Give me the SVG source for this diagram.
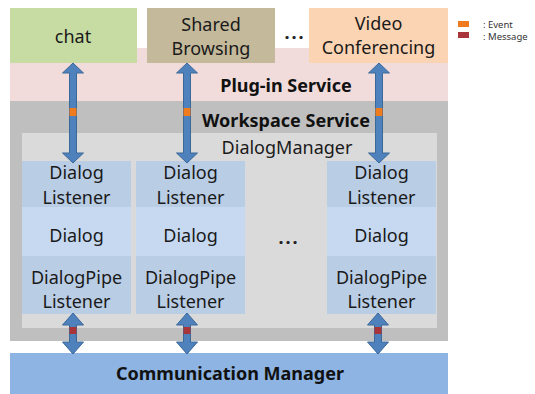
<svg xmlns="http://www.w3.org/2000/svg" xmlns:xlink="http://www.w3.org/1999/xlink" width="535" height="394" viewBox="0 0 535 394">
<style>
.t{font-family:"Noto Sans","Open Sans","DejaVu Sans",sans-serif;font-size:18px;fill:#1a1a1a;text-anchor:middle}
.b{font-family:"Noto Sans","Open Sans","DejaVu Sans",sans-serif;font-size:18px;font-weight:bold;fill:#111;text-anchor:middle}
.lg{font-family:"Noto Sans","Open Sans","DejaVu Sans",sans-serif;font-size:9.5px;fill:#333}
.dots{font-family:"Noto Sans","DejaVu Sans",sans-serif;font-size:18px;font-weight:bold;fill:#222;text-anchor:middle;letter-spacing:2px}
.dl{fill:#b9cde5}
.dg{fill:#c6d9f1}
.arr{fill:#4f81bd;stroke:#3a6898;stroke-width:1}
.ev{fill:#f07a1e}
.msg{fill:#a8353a}
</style>
<defs>
<polygon id="arrLong" points="0,63 10.5,73 3.5,73 3.5,153 10.5,153 0,163 -10.5,153 -3.5,153 -3.5,73 -10.5,73"/>
<polygon id="arrShort" points="0,313 10.5,325 3.5,325 3.5,342 10.5,342 0,354 -10.5,342 -3.5,342 -3.5,325 -10.5,325"/>
</defs>
<rect width="535" height="394" fill="#ffffff"/>

<g id="plugin-service">
<rect x="10" y="48" width="438" height="53" fill="#f2dcdb"/>
<text class="b" x="286" y="92">Plug-in Service</text>
</g>

<g id="workspace-service">
<rect x="10" y="101" width="438" height="240" fill="#bfbfbf"/>
<text class="b" x="286" y="127">Workspace Service</text>
</g>

<g id="dialog-manager">
<rect x="22" y="133" width="415" height="195" fill="#dadada"/>
<text class="t" x="287" y="154">DialogManager</text>
</g>

<g id="chat">
<rect x="10" y="8" width="127" height="55" fill="#c7dca3"/>
<text class="t" x="73" y="43">chat</text>
</g>

<g id="shared-browsing">
<rect x="147" y="8" width="128" height="55" fill="#c4b99a"/>
<text class="t" x="211" y="31">Shared</text>
<text class="t" x="211" y="55">Browsing</text>
</g>

<g id="dots-top">
<text class="dots" x="295" y="39">...</text>
</g>

<g id="video-conferencing">
<rect x="309" y="8" width="139" height="55" fill="#fbd4b4"/>
<text class="t" x="378.5" y="30">Video</text>
<text class="t" x="378.5" y="54">Conferencing</text>
</g>

<g id="legend">
<rect class="ev" x="458" y="21" width="11" height="6"/>
<text class="lg" x="483" y="28">: Event</text>
<rect class="msg" x="458" y="32" width="11" height="6"/>
<text class="lg" x="483" y="40">: Message</text>
</g>

<g id="column-1">
<rect class="dl" x="22" y="161" width="109" height="46"/>
<text class="t" x="76.5" y="179">Dialog</text>
<text class="t" x="76.5" y="204">Listener</text>
<rect class="dg" x="22" y="207" width="109" height="49"/>
<text class="t" x="76.5" y="242">Dialog</text>
<rect class="dl" x="22" y="256" width="109" height="58"/>
<text class="t" x="76.5" y="284">DialogPipe</text>
<text class="t" x="76.5" y="308">Listener</text>
</g>

<g id="column-2">
<rect class="dl" x="136" y="161" width="109" height="46"/>
<text class="t" x="190.5" y="179">Dialog</text>
<text class="t" x="190.5" y="204">Listener</text>
<rect class="dg" x="136" y="207" width="109" height="49"/>
<text class="t" x="190.5" y="242">Dialog</text>
<rect class="dl" x="136" y="256" width="109" height="58"/>
<text class="t" x="190.5" y="284">DialogPipe</text>
<text class="t" x="190.5" y="308">Listener</text>
</g>

<g id="dots-middle">
<text class="dots" x="289" y="244">...</text>
</g>

<g id="column-3">
<rect class="dl" x="327" y="161" width="109" height="46"/>
<text class="t" x="381.5" y="179">Dialog</text>
<text class="t" x="381.5" y="204">Listener</text>
<rect class="dg" x="327" y="207" width="109" height="49"/>
<text class="t" x="381.5" y="242">Dialog</text>
<rect class="dl" x="327" y="256" width="109" height="58"/>
<text class="t" x="381.5" y="284">DialogPipe</text>
<text class="t" x="381.5" y="308">Listener</text>
</g>

<g id="communication-manager">
<rect x="10" y="353" width="438" height="41" fill="#8eb4e3"/>
<text class="b" x="230" y="380">Communication Manager</text>
</g>

<g id="connectors">
<use xlink:href="#arrLong" href="#arrLong" class="arr" x="73"/>
<use xlink:href="#arrLong" href="#arrLong" class="arr" x="187"/>
<use xlink:href="#arrLong" href="#arrLong" class="arr" x="379"/>
<rect class="ev" x="69.5" y="108" width="7" height="8"/>
<rect class="ev" x="183.5" y="108" width="7" height="8"/>
<rect class="ev" x="375.5" y="108" width="7" height="8"/>
<use xlink:href="#arrShort" href="#arrShort" class="arr" x="73"/>
<use xlink:href="#arrShort" href="#arrShort" class="arr" x="187"/>
<use xlink:href="#arrShort" href="#arrShort" class="arr" x="378"/>
<rect class="msg" x="69.5" y="327" width="7" height="7"/>
<rect class="msg" x="183.5" y="327" width="7" height="7"/>
<rect class="msg" x="374.5" y="327" width="7" height="7"/>
</g>
</svg>
